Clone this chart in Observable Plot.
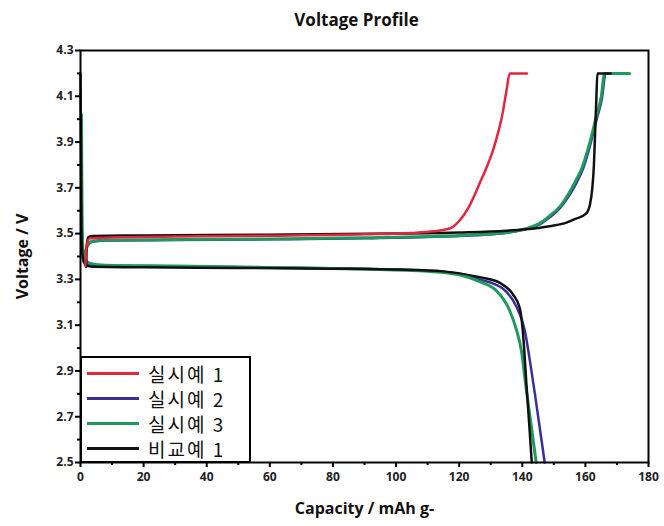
<!DOCTYPE html>
<html>
<head>
<meta charset="utf-8">
<script src="https://cdn.jsdelivr.net/npm/d3@7"></script>
<script src="https://cdn.jsdelivr.net/npm/@observablehq/plot@0.6"></script>
<style>
  html, body { margin: 0; padding: 0; background: #fff; }
  #wrap { position: relative; width: 664px; height: 526px; font-family: "Open Sans", "Noto Sans", sans-serif; }
  #legend { position: absolute; left: 80px; top: 356px; width: 171px; height: 107px; box-sizing: border-box;
            border: 2px solid #000; background: #fff; padding-top: 3px; }
  .row { height: 25px; display: flex; align-items: center; }
  .swatch { width: 52px; height: 3px; margin-left: 5px; margin-right: 9px; }
  .lab { font-family: "Noto Sans CJK KR", sans-serif; font-size: 19px; letter-spacing: 2px; color: #111; line-height: 25px; }
</style>
</head>
<body>
<div id="wrap"></div>
<script>
// ---- data ----
const series = ["실시예 1", "실시예 2", "실시예 3", "비교예 1"];
const xTicks = [0, 20, 40, 60, 80, 100, 120, 140, 160, 180];
const xMinorTicks = [10, 30, 50, 70, 90, 110, 130, 150, 170];
const yTicks = [2.5, 2.7, 2.9, 3.1, 3.3, 3.5, 3.7, 3.9, 4.1, 4.3];
const yMinorTicks = [2.6, 2.8, 3.0, 3.2, 3.4, 3.6, 3.8, 4.0, 4.2];

// charge curves [capacity mAh/g, voltage V]
const ex1Charge = [[1.5,3.36],[2,3.45],[3,3.48],[10,3.483],[30,3.487],[60,3.491],[90,3.497],[105,3.503],[112,3.51],[115,3.516],[117.5,3.525],[120,3.555],[123,3.615],[126.5,3.72],[129,3.8],[130.7,3.863],[132.5,3.95],[133.5,4.007],[135,4.125],[136,4.2],[141.5,4.2]];
const ex2Charge = [[1,3.38],[1.6,3.42],[2.5,3.452],[4,3.466],[10,3.47],[30,3.472],[60,3.475],[90,3.48],[110,3.485],[125,3.493],[133,3.5],[138,3.51],[142,3.522],[145.5,3.54],[148.8,3.572],[152,3.612],[154.8,3.665],[157.3,3.725],[159.3,3.785],[161,3.86],[162.5,3.94],[163.7,4.005],[165.3,4.095],[166.4,4.2],[172,4.2]];
const ex3Charge = [[1,3.38],[1.6,3.42],[2.5,3.455],[4,3.468],[10,3.472],[30,3.474],[60,3.477],[90,3.482],[110,3.487],[125,3.495],[133,3.502],[138,3.512],[142,3.525],[145.5,3.545],[148.6,3.577],[151.9,3.618],[154.5,3.67],[157,3.732],[159,3.79],[160.7,3.863],[162.2,3.94],[163.4,4.009],[165,4.096],[166.1,4.2],[174,4.2]];
const cmp1Charge = [[1.8,3.355],[2,3.45],[2.5,3.485],[4,3.49],[20,3.492],[60,3.495],[100,3.5],[120,3.505],[135,3.513],[145,3.525],[150,3.535],[154,3.548],[157,3.565],[160.3,3.588],[161.5,3.63],[162.2,3.7],[162.7,3.8],[163.1,3.95],[163.5,4.1],[163.8,4.2],[168,4.2]];

// discharge curves
const ex2Discharge = [[0.5,3.5],[1,3.39],[2,3.365],[5,3.36],[30,3.357],[60,3.352],[90,3.346],[110,3.338],[120,3.325],[126.5,3.3],[133.8,3.26],[138.2,3.179],[140.8,3.077],[142.4,2.946],[144,2.8],[145.5,2.655],[147.1,2.5]];
const ex3Discharge = [[0.3,4.02],[0.5,3.6],[0.8,3.42],[1.5,3.385],[3,3.37],[8,3.362],[30,3.358],[60,3.352],[90,3.345],[110,3.335],[120,3.32],[126.5,3.29],[131.8,3.25],[136,3.164],[138.2,3.077],[139.7,2.99],[141.3,2.815],[142.9,2.655],[144.4,2.5]];
const cmp1Discharge = [[0,4.2],[0.3,3.5],[0.8,3.39],[1.8,3.36],[4,3.355],[20,3.353],[50,3.35],[80,3.347],[100,3.343],[115,3.335],[126.5,3.31],[132.9,3.285],[137,3.235],[139.2,3.175],[140.2,3.07],[141.3,2.845],[142.4,2.627],[143,2.5]];

const curves = [
  [series[1], "charge", ex2Charge],
  [series[1], "discharge", ex2Discharge],
  [series[2], "charge", ex3Charge],
  [series[2], "discharge", ex3Discharge],
  [series[3], "charge", cmp1Charge],
  [series[3], "discharge", cmp1Discharge],
  [series[0], "charge", ex1Charge]
];

// ---- styles ----
const colors = ["#e3263b", "#3b2e96", "#1f9a5e", "#111111"];
const widths = [2.5, 2.5, 3, 2.5];
const color = s => colors[series.indexOf(s)];
const width = s => widths[series.indexOf(s)];

const lineMarks = curves.map(([s, seg, pts]) =>
  Plot.line(pts.map(([x, y]) => ({x, y, s, seg})), {
    x: "x", y: "y", stroke: color(s), strokeWidth: width(s), curve: "monotone-x", strokeLinejoin: "round"
  })
);

const fmt = d3.format(".1f");
const chart = Plot.plot({
  width: 664,
  height: 526,
  marginTop: 50,
  marginBottom: 64,
  marginLeft: 80,
  marginRight: 16,
  style: { fontFamily: "'Open Sans', 'Noto Sans', sans-serif", color: "#222", background: "#fff" },
  x: { domain: [0, 180] },
  y: { domain: [2.5, 4.3] },
  marks: [
    ...lineMarks,
    Plot.frame({ stroke: "#000", strokeWidth: 2 }),
    Plot.axisX({ ticks: xTicks, tickSize: 5, tickPadding: 5, strokeWidth: 2, stroke: "#000", fontSize: 12, fontWeight: "bold", label: null }),
    Plot.axisX({ ticks: xMinorTicks, tickSize: 3, strokeWidth: 2, stroke: "#000", text: null, label: null }),
    Plot.axisY({ ticks: yTicks, tickSize: 5, tickPadding: 2, strokeWidth: 2, stroke: "#000", fontSize: 12, fontWeight: "bold", tickFormat: fmt, label: null }),
    Plot.axisY({ ticks: yMinorTicks, tickSize: 3, strokeWidth: 2, stroke: "#000", text: null, label: null }),
    Plot.text(["Voltage Profile"], { text: d => d, frameAnchor: "top", lineAnchor: "middle", textAnchor: "middle", dy: -30, dx: -8, fontSize: 17, fontWeight: "bold", fill: "#111" }),
    Plot.text(["Capacity / mAh g-"], { text: d => d, frameAnchor: "bottom", lineAnchor: "middle", textAnchor: "middle", dy: 46, fontSize: 16, fontWeight: "bold", fill: "#111" }),
    Plot.text(["Voltage / V"], { text: d => d, frameAnchor: "left", lineAnchor: "middle", textAnchor: "middle", dx: -58, rotate: -90, fontSize: 16, fontWeight: "bold", fill: "#111" })
  ]
});

const wrap = document.getElementById("wrap");
wrap.appendChild(chart);

// legend
const legend = document.createElement("div");
legend.id = "legend";
series.forEach((s, i) => {
  const row = document.createElement("div");
  row.className = "row";
  const sw = document.createElement("div");
  sw.className = "swatch";
  sw.style.background = colors[i];
  const lab = document.createElement("span");
  lab.className = "lab";
  lab.textContent = s;
  row.appendChild(sw);
  row.appendChild(lab);
  legend.appendChild(row);
});
wrap.appendChild(legend);
</script>
</body>
</html>
